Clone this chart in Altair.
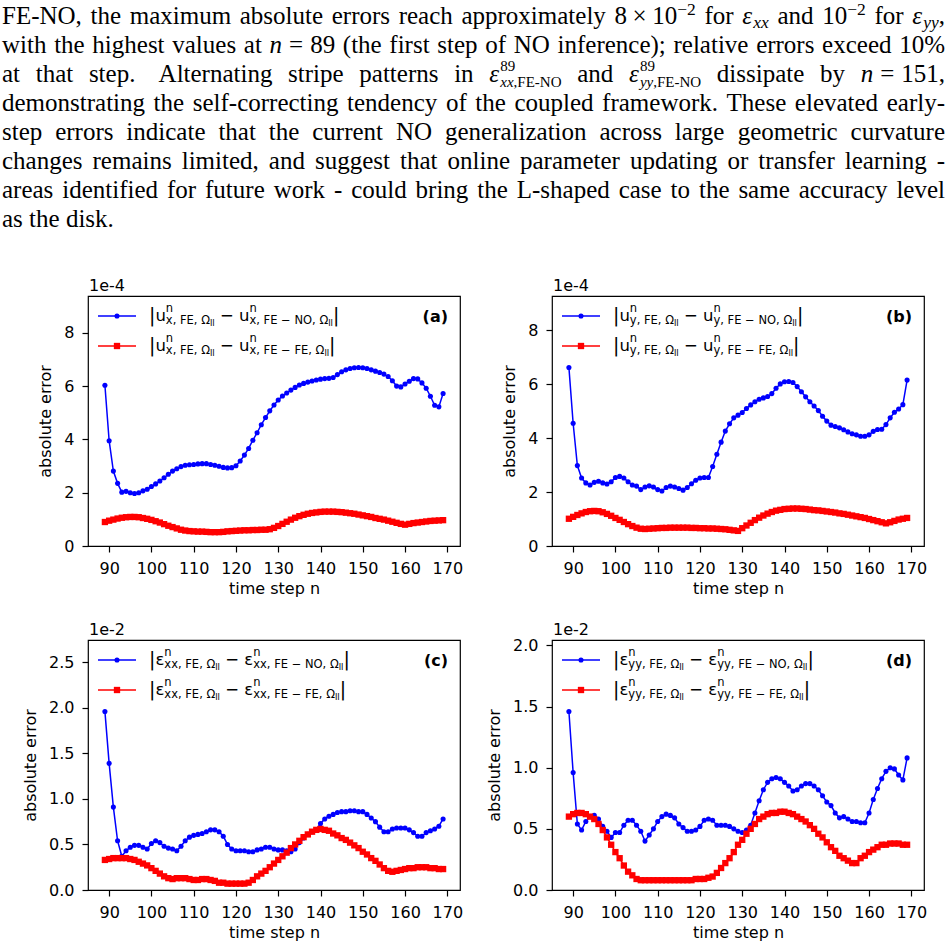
import altair as alt
import pandas as pd

# ---------------------------------------------------------------- data
steps = list(range(89, 170))

# |u_x| errors, units of 1e-4
ux_fe_no = [6.03, 3.95, 2.81, 2.35, 2.02, 2.05, 2.00, 1.97, 2.00, 2.07,
            2.13, 2.23, 2.33, 2.44, 2.56, 2.69, 2.81, 2.90, 2.98, 3.03,
            3.05, 3.06, 3.08, 3.09, 3.09, 3.06, 3.03, 2.99, 2.95, 2.93,
            2.94, 3.01, 3.19, 3.41, 3.66, 3.97, 4.25, 4.55, 4.82, 5.07,
            5.29, 5.48, 5.63, 5.74, 5.85, 5.95, 6.04, 6.10, 6.15, 6.19,
            6.23, 6.26, 6.28, 6.29, 6.32, 6.43, 6.54, 6.61, 6.66, 6.69,
            6.70, 6.69, 6.66, 6.61, 6.56, 6.51, 6.45, 6.36, 6.20, 6.00,
            5.97, 6.08, 6.18, 6.28, 6.27, 6.12, 5.92, 5.62, 5.28, 5.22,
            5.72]
ux_fe_fe = [0.90, 0.95, 0.99, 1.03, 1.06, 1.08, 1.09, 1.09, 1.08, 1.05,
            1.02, 0.98, 0.93, 0.88, 0.82, 0.76, 0.71, 0.66, 0.61, 0.58,
            0.56, 0.55, 0.54, 0.54, 0.53, 0.52, 0.52, 0.52, 0.53, 0.55,
            0.56, 0.57, 0.58, 0.59, 0.59, 0.60, 0.60, 0.61, 0.61, 0.63,
            0.68, 0.75, 0.83, 0.91, 0.99, 1.06, 1.12, 1.17, 1.21, 1.24,
            1.26, 1.28, 1.29, 1.29, 1.29, 1.28, 1.27, 1.25, 1.23, 1.21,
            1.18, 1.15, 1.12, 1.09, 1.05, 1.02, 0.99, 0.95, 0.91, 0.87,
            0.83, 0.80, 0.83, 0.86, 0.88, 0.90, 0.92, 0.94, 0.95, 0.96,
            0.97]

# |u_y| errors, units of 1e-4
uy_fe_no = [6.62, 4.55, 2.98, 2.52, 2.34, 2.26, 2.36, 2.40, 2.34, 2.30,
            2.38, 2.54, 2.58, 2.52, 2.38, 2.26, 2.22, 2.09, 2.19, 2.23,
            2.19, 2.09, 2.04, 2.17, 2.22, 2.19, 2.13, 2.07, 2.17, 2.31,
            2.44, 2.52, 2.54, 2.54, 2.95, 3.40, 3.85, 4.26, 4.53, 4.75,
            4.85, 4.95, 5.10, 5.23, 5.35, 5.44, 5.49, 5.54, 5.65, 5.85,
            6.01, 6.09, 6.10, 6.06, 5.91, 5.72, 5.53, 5.35, 5.19, 5.02,
            4.81, 4.63, 4.48, 4.43, 4.38, 4.31, 4.23, 4.16, 4.12, 4.07,
            4.07, 4.12, 4.25, 4.32, 4.33, 4.50, 4.75, 4.96, 5.08, 5.24,
            6.15]
uy_fe_fe = [1.01, 1.08, 1.15, 1.21, 1.26, 1.29, 1.30, 1.29, 1.25, 1.19,
            1.12, 1.04, 0.97, 0.89, 0.81, 0.74, 0.68, 0.64, 0.63, 0.64,
            0.65, 0.66, 0.67, 0.67, 0.68, 0.68, 0.68, 0.68, 0.68, 0.67,
            0.67, 0.66, 0.66, 0.65, 0.65, 0.64, 0.63, 0.62, 0.60, 0.58,
            0.56, 0.66, 0.76, 0.86, 0.96, 1.05, 1.13, 1.20, 1.26, 1.31,
            1.34, 1.37, 1.38, 1.39, 1.39, 1.38, 1.37, 1.35, 1.33, 1.32,
            1.30, 1.28, 1.26, 1.24, 1.21, 1.19, 1.16, 1.13, 1.10, 1.07,
            1.04, 1.00, 0.96, 0.92, 0.88, 0.84, 0.88, 0.93, 0.98, 1.01,
            1.04]

# |eps_xx| errors, units of 1e-2
exx_fe_no = [1.96, 1.39, 0.91, 0.54, 0.37, 0.43, 0.47, 0.49, 0.49, 0.47,
             0.45, 0.51, 0.54, 0.52, 0.48, 0.46, 0.45, 0.43, 0.48, 0.54,
             0.58, 0.60, 0.61, 0.62, 0.64, 0.66, 0.66, 0.64, 0.59, 0.50,
             0.45, 0.43, 0.43, 0.43, 0.42, 0.42, 0.44, 0.45, 0.47, 0.47,
             0.45, 0.44, 0.44, 0.43, 0.42, 0.45, 0.52, 0.57, 0.61, 0.64,
             0.66, 0.73, 0.78, 0.81, 0.83, 0.85, 0.86, 0.86, 0.87, 0.87,
             0.86, 0.86, 0.83, 0.79, 0.75, 0.69, 0.64, 0.64, 0.67, 0.68,
             0.68, 0.68, 0.66, 0.63, 0.59, 0.59, 0.63, 0.65, 0.67, 0.70,
             0.78]
exx_fe_fe = [0.33, 0.34, 0.35, 0.35, 0.35, 0.35, 0.34, 0.33, 0.31, 0.29,
             0.27, 0.24, 0.21, 0.18, 0.15, 0.13, 0.12, 0.13, 0.13, 0.13,
             0.12, 0.11, 0.11, 0.12, 0.12, 0.11, 0.10, 0.08, 0.08, 0.07,
             0.07, 0.07, 0.07, 0.07, 0.08, 0.11, 0.15, 0.18, 0.21, 0.25,
             0.29, 0.33, 0.37, 0.41, 0.46, 0.50, 0.54, 0.58, 0.61, 0.64,
             0.66, 0.67, 0.66, 0.65, 0.62, 0.60, 0.57, 0.55, 0.52, 0.49,
             0.46, 0.42, 0.39, 0.35, 0.32, 0.28, 0.24, 0.21, 0.20, 0.21,
             0.22, 0.23, 0.24, 0.24, 0.25, 0.25, 0.25, 0.24, 0.24, 0.23,
             0.23]

# |eps_yy| errors, units of 1e-2
eyy_fe_no = [1.46, 0.96, 0.54, 0.49, 0.56, 0.60, 0.61, 0.58, 0.52, 0.48,
             0.43, 0.47, 0.47, 0.53, 0.57, 0.57, 0.53, 0.48, 0.40, 0.45,
             0.50, 0.56, 0.60, 0.62, 0.61, 0.59, 0.54, 0.51, 0.48, 0.48,
             0.49, 0.52, 0.57, 0.58, 0.57, 0.53, 0.53, 0.53, 0.52, 0.50,
             0.48, 0.47, 0.49, 0.53, 0.63, 0.73, 0.82, 0.88, 0.91, 0.92,
             0.91, 0.88, 0.85, 0.81, 0.82, 0.85, 0.87, 0.87, 0.85, 0.82,
             0.77, 0.72, 0.69, 0.63, 0.59, 0.60, 0.58, 0.56, 0.56, 0.55,
             0.55, 0.63, 0.74, 0.83, 0.91, 0.97, 1.00, 0.99, 0.94, 0.90,
             1.08]
eyy_fe_fe = [0.60, 0.62, 0.63, 0.63, 0.62, 0.60, 0.58, 0.54, 0.49, 0.43,
             0.37, 0.31, 0.26, 0.20, 0.15, 0.12, 0.09, 0.08, 0.08, 0.08,
             0.08, 0.08, 0.08, 0.08, 0.08, 0.08, 0.08, 0.08, 0.08, 0.08,
             0.09, 0.09, 0.09, 0.10, 0.11, 0.14, 0.18, 0.22, 0.26, 0.31,
             0.37, 0.41, 0.46, 0.50, 0.54, 0.58, 0.60, 0.62, 0.63, 0.63,
             0.64, 0.64, 0.63, 0.62, 0.60, 0.58, 0.56, 0.53, 0.50, 0.46,
             0.43, 0.39, 0.35, 0.32, 0.28, 0.26, 0.24, 0.22, 0.22, 0.26,
             0.28, 0.31, 0.33, 0.35, 0.37, 0.37, 0.38, 0.38, 0.38, 0.37,
             0.37]

x_ticks = [90, 100, 110, 120, 130, 140, 150, 160, 170]

for arr in (ux_fe_no, ux_fe_fe, uy_fe_no, uy_fe_fe,
            exx_fe_no, exx_fe_fe, eyy_fe_no, eyy_fe_fe):
    assert len(arr) == len(steps)

# ---------------------------------------------------------------- style
SERIF = "Liberation Serif"
SANS = "DejaVu Sans"
BLUE = "#0000ff"
RED = "#ff0000"
W, H = 372, 250          # plot area of every panel
OX, OY = 87, 293         # page position of panel (a)'s plot area

# advance widths in em, used to lay out runs of mixed-style text
TIMES_RM = {}
for chars, w in [("ADGHKNOQUVXYw", 722), ("BCR", 667), ("ELTZ", 611),
                 ("FPS", 556), ("I", 333), ("J", 389), ("M", 889), ("W", 944),
                 ("acez", 444), ("bdghknopquvxy0123456789", 500),
                 ("fr-()'", 333), ("ijlt;:", 278), ("m", 778), ("s", 389),
                 (" ,.", 250), ("%", 833), ("=×−", 564), ("ε", 440)]:
    for ch in chars:
        TIMES_RM[ch] = w / 1000
TIMES_IT = dict(TIMES_RM, n=0.5, x=0.444, y=0.444)
DEJAVU = {"|": .337, "u": .634, "n": .634, "x": .592, "y": .592, ",": .318,
          " ": .318, "F": .575, "E": .632, "N": .748, "O": .787, "Ω": .764,
          "I": .295, "−": .838, "ε": .541}


def run_width(text, size, style):
    table = {"rm": TIMES_RM, "it": TIMES_IT, "sans": DEJAVU}[style]
    return sum(table.get(ch, 0.5) for ch in text) * size


# ---------------------------------------------------------------- paragraph
def R(t):
    return {"t": t, "st": "rm", "sc": 1.0, "dy": 0.0, "adv": True}


def I(t):
    return {"t": t, "st": "it", "sc": 1.0, "dy": 0.0, "adv": True}


def SUP(t, adv=True, dy=-0.36, sc=0.7):
    return {"t": t, "st": "rm", "sc": sc, "dy": dy, "adv": adv}


def SUB(t, st="it", dy=0.16, sc=0.7):
    return {"t": t, "st": st, "sc": sc, "dy": dy, "adv": True}


def GAP(em):
    return {"t": "", "st": "gap", "sc": em, "dy": 0.0, "adv": True}


def words(s):
    return [[R(w)] for w in s.split()]


def eps_stack(comp):
    # epsilon with superscript 89 stacked over a subscript
    return [I("ε"), SUP("89", adv=False, dy=-0.46, sc=0.6),
            SUB(comp, dy=0.2, sc=0.6), SUB(",FE-NO", st="rm", dy=0.2, sc=0.6)]


para_lines = [
    words("FE-NO, the maximum absolute errors reach approximately")
    + [[R("8"), GAP(0.22), R("×"), GAP(0.22), R("10"), SUP("−2")]]
    + [[R("for")], [I("ε"), SUB("xx")], [R("and")], [R("10"), SUP("−2")],
       [R("for")], [I("ε"), SUB("yy"), R(",")]],
    words("with the highest values at")
    + [[I("n"), GAP(0.28), R("="), GAP(0.28), R("89")]]
    + words("(the first step of NO inference); relative errors exceed 10%"),
    words("at that") + [[R("step."), GAP(0.3)]]
    + words("Alternating stripe patterns in")
    + [eps_stack("xx"), [R("and")], eps_stack("yy")]
    + words("dissipate by")
    + [[I("n"), GAP(0.28), R("="), GAP(0.28), R("151,")]],
    words("demonstrating the self-correcting tendency of the coupled "
          "framework. These elevated early-"),
    words("step errors indicate that the current NO generalization across "
          "large geometric curvature"),
    words("changes remains limited, and suggest that online parameter "
          "updating or transfer learning -"),
    words("areas identified for future work - could bring the L-shaped case "
          "to the same accuracy level"),
    words("as the disk."),
]

PARA_FS = 25
PARA_LEFT, PARA_RIGHT = 1, 944
PARA_BASE, PARA_LEAD = 21, 29


def word_width(word):
    total = 0.0
    for p in word:
        if p["st"] == "gap":
            total += p["sc"] * PARA_FS
        elif p["adv"]:
            total += run_width(p["t"], p["sc"] * PARA_FS, p["st"])
    return total


para_rows = []
for i, line in enumerate(para_lines):
    base = PARA_BASE + PARA_LEAD * i
    widths = [word_width(w) for w in line]
    justify = i < len(para_lines) - 1
    gap = ((PARA_RIGHT - PARA_LEFT - sum(widths)) / (len(line) - 1)
           if justify else 0.25 * PARA_FS)
    x = PARA_LEFT
    for word, ww in zip(line, widths):
        cx = x
        for p in word:
            if p["st"] == "gap":
                cx += p["sc"] * PARA_FS
                continue
            fs = p["sc"] * PARA_FS
            para_rows.append({"t": p["t"], "st": p["st"], "fs": fs,
                              "px": cx - OX, "py": base + p["dy"] * PARA_FS - OY})
            if p["adv"]:
                cx += run_width(p["t"], fs, p["st"])
        x += ww + gap
para_df = pd.DataFrame(para_rows)


# ---------------------------------------------------------------- legend text
def legend_rows(comp, sub):
    bar, main, small, tiny = 19.0, 16.5, 11.5, 8.0
    rows = []
    for k, other in enumerate(["NO", "FE"]):
        base = 25 + 30 * k
        x = 61.0
        pieces = [("|", bar, 1, True), (comp, main, 0, True),
                  ("n", small, -9.5, False), (f"{sub}, FE, Ω", small, 3.0, True),
                  ("II", tiny, 5.0, True), (" − ", main, 0, True),
                  (comp, main, 0, True), ("n", small, -9.5, False),
                  (f"{sub}, FE − {other}, Ω", small, 3.0, True),
                  ("II", tiny, 5.0, True), ("|", bar, 1, True)]
        for t, fs, dy, adv in pieces:
            lead = len(t) - len(t.lstrip(" "))
            rows.append({"t": t.strip(" "), "fs": fs,
                         "px": x + lead * DEJAVU[" "] * fs, "py": base + dy})
            if adv:
                x += run_width(t, fs, "sans")
    return pd.DataFrame(rows)


def pixel_text(df, font, style="normal"):
    return alt.Chart(df).mark_text(
        font=font, fontStyle=style, align="left", baseline="alphabetic",
        color="black"
    ).encode(
        x=alt.X("px:Q", scale=None, axis=None),
        y=alt.Y("py:Q", scale=None, axis=None),
        text="t:N",
        size=alt.Size("fs:Q", scale=None, legend=None),
    )


one = pd.DataFrame({"k": [0]})


# ---------------------------------------------------------------- panels
def panel(no_vals, fe_vals, y_ticks, y_fmt, tag, exponent, comp, sub, extra=()):
    ymax = round(1.4 * max(no_vals), 3)
    df = pd.DataFrame({"n": steps * 2, "err": no_vals + fe_vals,
                       "run": ["no"] * len(steps) + ["fe"] * len(steps)})
    x = alt.X("n:Q", scale=alt.Scale(domain=[85, 173], nice=False, zero=False),
              axis=alt.Axis(values=x_ticks, format="d", title="time step n"))
    y = alt.Y("err:Q", scale=alt.Scale(domain=[0, ymax], nice=False, zero=False),
              axis=alt.Axis(values=y_ticks, format=y_fmt, title="absolute error"))
    base = alt.Chart(df)
    no = base.transform_filter("datum.run == 'no'")
    fe = base.transform_filter("datum.run == 'fe'")
    layers = [
        no.mark_line(color=BLUE, strokeWidth=1.5).encode(x=x, y=y),
        no.mark_point(shape="circle", filled=True, size=26, color=BLUE,
                      opacity=1).encode(x=x, y=y),
        fe.mark_line(color=RED, strokeWidth=1.5).encode(x=x, y=y),
        fe.mark_point(shape="square", filled=True, size=40, color=RED,
                      opacity=1).encode(x=x, y=y),
    ]
    for yy, col, shape, sz in [(20, BLUE, "circle", 26), (50, RED, "square", 40)]:
        layers.append(alt.Chart(one).mark_rule(color=col, strokeWidth=1.5).encode(
            x=alt.value(10), x2=alt.value(48), y=alt.value(yy)))
        layers.append(alt.Chart(one).mark_point(
            shape=shape, filled=True, size=sz, color=col, opacity=1
        ).encode(x=alt.value(29), y=alt.value(yy)))
    layers.append(pixel_text(legend_rows(comp, sub), SANS))
    layers.append(alt.Chart(one).mark_text(
        text=tag, font=SANS, fontSize=16, fontWeight="bold", align="right",
        baseline="middle", color="black").encode(x=alt.value(W - 12), y=alt.value(21)))
    layers.append(alt.Chart(one).mark_text(
        text=exponent, font=SANS, fontSize=16, align="left",
        baseline="alphabetic", color="black").encode(x=alt.value(1), y=alt.value(-5)))
    layers.extend(extra)
    return alt.layer(*layers).properties(width=W, height=H)


# paragraph above the figure, drawn in panel (a)'s coordinates
paragraph = [
    alt.Chart(one).mark_rect(opacity=0).encode(
        x=alt.value(-OX), x2=alt.value(-OX + 4), y=alt.value(-OY), y2=alt.value(-OY + 4)),
    pixel_text(para_df[para_df.st == "rm"], SERIF),
    pixel_text(para_df[para_df.st == "it"], SERIF, "italic"),
]

pa = panel(ux_fe_no, ux_fe_fe, [0, 2, 4, 6, 8], "d", "(a)", "1e-4", "u", "x", paragraph)
pb = panel(uy_fe_no, uy_fe_fe, [0, 2, 4, 6, 8], "d", "(b)", "1e-4", "u", "y")
pc = panel(exx_fe_no, exx_fe_fe, [0, 0.5, 1.0, 1.5, 2.0, 2.5], ".1f", "(c)", "1e-2", "ε", "xx")
pd_ = panel(eyy_fe_no, eyy_fe_fe, [0, 0.5, 1.0, 1.5, 2.0], ".1f", "(d)", "1e-2", "ε", "yy")

chart = alt.concat(
    pa, pb, pc, pd_, columns=2, spacing={"row": 94, "column": 92}, bounds="flush"
).properties(
    padding=0, background="white"
).configure_view(
    stroke="black", strokeWidth=1.2
).configure_axis(
    grid=False, domain=False, tickColor="black", tickWidth=1.2, tickSize=6,
    labelFont=SANS, labelFontSize=16, labelColor="black", labelPadding=8,
    labelFlush=False, labelOverlap=False,
    titleFont=SANS, titleFontSize=16, titleFontWeight="normal", titleColor="black"
).configure_axisX(
    titlePadding=4
).configure_axisY(
    titlePadding=10
)

chart.save("out.html", embed_options={"renderer": "svg", "actions": False})
